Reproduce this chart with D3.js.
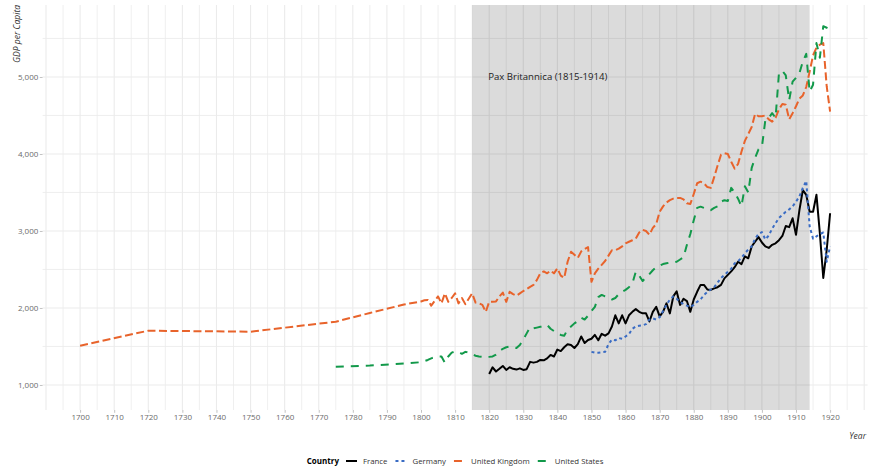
<!DOCTYPE html>
<html><head><meta charset="utf-8">
<script src="https://cdn.jsdelivr.net/npm/d3@7"></script>
<style>
body{margin:0;background:#fff}
svg{display:block}
text{font-family:"Open Sans",sans-serif}
</style>
</head><body>
<svg id="chart" width="869" height="467"></svg>
<script>
// ---------------- DATA ----------------
const countries = ["France", "Germany", "United Kingdom", "United States"];
const colors = ["#000000", "#3a6cc4", "#e8632b", "#12994a"];
const dashes = [null, "3,3", "8,3.5", "8,7"];

const xTickLabels = [1700,1710,1720,1730,1740,1750,1760,1770,1780,1790,1800,1810,1820,1830,1840,1850,1860,1870,1880,1890,1900,1910,1920];
const yTickLabels = [1000, 2000, 3000, 4000, 5000];

const paxStart = 1815, paxEnd = 1914;
const paxLabel = "Pax Britannica (1815-1914)";

// France, annual 1820-1920
const franceYears = [1820,1821,1822,1823,1824,1825,1826,1827,1828,1829,1830,1831,1832,1833,1834,1835,1836,1837,1838,1839,1840,1841,1842,1843,1844,1845,1846,1847,1848,1849,1850,1851,1852,1853,1854,1855,1856,1857,1858,1859,1860,1861,1862,1863,1864,1865,1866,1867,1868,1869,1870,1871,1872,1873,1874,1875,1876,1877,1878,1879,1880,1881,1882,1883,1884,1885,1886,1887,1888,1889,1890,1891,1892,1893,1894,1895,1896,1897,1898,1899,1900,1901,1902,1903,1904,1905,1906,1907,1908,1909,1910,1911,1912,1913,1914,1915,1916,1917,1918,1919,1920];
const franceValues = [
1143,1230,1175,1210,1247,1195,1230,1210,1200,1216,
1195,1205,1300,1290,1300,1325,1320,1345,1390,1370,
1460,1440,1490,1530,1520,1480,1530,1630,1545,1585,
1600,1650,1580,1665,1640,1670,1760,1905,1800,1905,
1800,1905,1950,1985,1950,1930,1930,1825,1950,2015,
1890,1950,2060,1930,2150,2215,2040,2120,2090,1950,
2110,2210,2300,2300,2240,2235,2255,2270,2300,2385,
2430,2475,2530,2600,2570,2670,2645,2800,2860,2920,
2850,2800,2780,2820,2840,2880,2935,3065,3050,3165,
2950,3270,3530,3470,3250,3250,3470,2970,2390,2750,
3230];

// Germany, annual 1850-1920
const germanyYears = [1850,1851,1852,1853,1854,1855,1856,1857,1858,1859,1860,1861,1862,1863,1864,1865,1866,1867,1868,1869,1870,1871,1872,1873,1874,1875,1876,1877,1878,1879,1880,1881,1882,1883,1884,1885,1886,1887,1888,1889,1890,1891,1892,1893,1894,1895,1896,1897,1898,1899,1900,1901,1902,1903,1904,1905,1906,1907,1908,1909,1910,1911,1912,1913,1914,1915,1916,1917,1918,1919,1920];
const germanyValues = [
1430,1420,1420,1425,1430,1530,1590,1580,1610,1600,
1630,1660,1730,1760,1770,1775,1790,1850,1865,1850,
1880,1960,2040,2110,2150,2120,2080,2050,2030,2010,
2040,2080,2110,2170,2210,2240,2270,2330,2390,2430,
2470,2510,2580,2610,2650,2710,2760,2800,2900,2960,
2985,2890,2940,3030,3100,3170,3210,3250,3280,3320,
3380,3450,3560,3650,3060,2900,2930,2960,2980,2600,
2800];

// United Kingdom, 1700-1920
const ukYears = [1700,1720,1750,1775,1785,1795,1800,1801,1802,1803,1804,1805,1806,1807,1808,1809,1810,1811,1812,1813,1814,1815,1816,1817,1818,1819,1820,1821,1822,1823,1824,1825,1826,1827,1828,1829,1830,1831,1832,1833,1834,1835,1836,1837,1838,1839,1840,1841,1842,1843,1844,1845,1846,1847,1848,1849,1850,1851,1852,1853,1854,1855,1856,1857,1858,1859,1860,1861,1862,1863,1864,1865,1866,1867,1868,1869,1870,1871,1872,1873,1874,1875,1876,1877,1878,1879,1880,1881,1882,1883,1884,1885,1886,1887,1888,1889,1890,1891,1892,1893,1894,1895,1896,1897,1898,1899,1900,1901,1902,1903,1904,1905,1906,1907,1908,1909,1910,1911,1912,1913,1914,1915,1916,1917,1918,1919,1920];
const ukValues = [
1510,1705,1692,1822,1935,2045,
2085,2100,2105,2030,2090,2150,2060,2190,2080,2130,
2190,2060,2130,2050,2120,2190,2070,2060,2040,1950,
2080,2080,2085,2150,2200,2080,2210,2180,2160,2190,
2220,2245,2275,2300,2365,2450,2475,2450,2485,2450,
2515,2420,2390,2600,2730,2690,2650,2735,2765,2790,
2340,2450,2510,2560,2610,2680,2750,2750,2770,2800,
2840,2860,2880,2900,2980,3015,3000,2950,3040,3090,
3250,3320,3370,3400,3420,3430,3430,3410,3360,3350,
3480,3620,3640,3620,3570,3560,3700,3850,3990,4010,
4000,3900,3810,3870,4030,4170,4260,4350,4520,4490,
4490,4500,4450,4420,4470,4580,4650,4640,4450,4530,
4620,4720,4760,4870,5070,5280,5380,5420,5440,4880,
4550];

// United States, 1775-1920
const usYears = [1775,1785,1795,1800,1801,1802,1803,1804,1805,1806,1807,1808,1809,1810,1811,1812,1813,1814,1815,1816,1817,1818,1819,1820,1821,1822,1823,1824,1825,1826,1827,1828,1829,1830,1831,1832,1833,1834,1835,1836,1837,1838,1839,1840,1841,1842,1843,1844,1845,1846,1847,1848,1849,1850,1851,1852,1853,1854,1855,1856,1857,1858,1859,1860,1861,1862,1863,1864,1865,1866,1867,1868,1869,1870,1871,1872,1873,1874,1875,1876,1877,1878,1879,1880,1881,1882,1883,1884,1885,1886,1887,1888,1889,1890,1891,1892,1893,1894,1895,1896,1897,1898,1899,1900,1901,1902,1903,1904,1905,1906,1907,1908,1909,1910,1911,1912,1913,1914,1915,1916,1917,1918,1919,1920];
const usValues = [
1238,1252,1278,
1296,1310,1325,1346,1360,1370,1370,1290,1370,1420,
1435,1430,1405,1430,1420,1400,1380,1370,1365,1360,
1365,1370,1395,1440,1470,1490,1498,1492,1480,1520,
1590,1670,1750,1735,1745,1755,1770,1780,1730,1700,
1680,1650,1640,1720,1760,1800,1830,1875,1850,1900,
1960,2015,2140,2170,2150,2140,2110,2130,2180,2210,
2235,2270,2320,2470,2420,2350,2400,2440,2490,2530,
2550,2570,2580,2590,2590,2600,2630,2660,2820,2960,
3140,3300,3316,3300,3290,3270,3300,3320,3380,3400,
3390,3560,3500,3420,3320,3580,3500,3820,3950,4060,
4091,4440,4470,4530,4470,5050,5080,5020,4700,4940,
4990,5050,5200,5300,4810,4900,5440,5250,5660,5640,
5550];

const seriesYears = [franceYears, germanyYears, ukYears, usYears];
const seriesValues = [franceValues, germanyValues, ukValues, usValues];

// ---------------- CHART ----------------
const svg = d3.select("#chart");
const x = d3.scaleLinear().domain([1689, 1931]).range([42.6, 867.6]);
const y = d3.scaleLinear().domain([675, 5935]).range([410, 5]);
const [px0, px1] = x.range();
const [py0, py1] = y.range(); // bottom, top

// grid
const grid = svg.append("g");
const xMinor = d3.range(1690, 1931, 5);
const yMinor = d3.range(1000, 5901, 500);
grid.selectAll("line.gx").data(xMinor).join("line")
  .attr("x1", d => x(d)).attr("x2", d => x(d))
  .attr("y1", py1).attr("y2", py0)
  .attr("stroke", "#ebebeb").attr("stroke-width", d => d % 10 === 0 ? 1.1 : 0.8);
grid.selectAll("line.gy").data(yMinor).join("line")
  .attr("x1", px0).attr("x2", px1)
  .attr("y1", d => y(d)).attr("y2", d => y(d))
  .attr("stroke", "#ebebeb").attr("stroke-width", d => d % 1000 === 0 ? 1.1 : 0.8);

// Pax Britannica shading
svg.append("rect")
  .attr("x", x(paxStart)).attr("width", x(paxEnd) - x(paxStart))
  .attr("y", py1).attr("height", py0 - py1)
  .attr("fill", "#000").attr("fill-opacity", 0.14);

// axes
const yAxis = svg.append("g").attr("transform", `translate(${px0},0)`)
  .call(d3.axisLeft(y).tickValues(yTickLabels).tickFormat(d3.format(",")).tickSize(2.8).tickPadding(1.5));
const xAxis = svg.append("g").attr("transform", `translate(0,${py0})`)
  .call(d3.axisBottom(x).tickValues(xTickLabels).tickFormat(d3.format("d")).tickSize(2.8).tickPadding(2));
[xAxis, yAxis].forEach(a => {
  a.select(".domain").remove();
  a.selectAll(".tick line").attr("stroke", "#b3b3b3").attr("stroke-width", 0.8);
  a.selectAll(".tick text").attr("fill", "#6b6b6b").style("font-size", "8px")
    .style("font-family", '"Open Sans", sans-serif');
});

// axis titles
svg.append("text").attr("transform", "translate(19.5,5) rotate(-90)")
  .attr("text-anchor", "end").style("font-size", "8.5px").style("font-style", "italic")
  .attr("fill", "#333").text("GDP per Capita");
svg.append("text").attr("x", 866).attr("y", 439).attr("text-anchor", "end")
  .style("font-size", "8.5px").style("font-style", "italic").attr("fill", "#333").text("Year");

// lines
const line = d3.line().x(d => x(d[0])).y(d => y(d[1]));
const lines = svg.append("g");
countries.forEach((c, i) => {
  const pts = seriesYears[i].map((yr, j) => [yr, seriesValues[i][j]]);
  lines.append("path").datum(pts)
    .attr("d", line).attr("fill", "none")
    .attr("stroke", colors[i]).attr("stroke-width", 2)
    .attr("stroke-linejoin", "round")
    .attr("stroke-dasharray", dashes[i]);
});

// annotation
svg.append("text").attr("x", x(1820) - 1).attr("y", y(5000) + 3.3)
  .style("font-size", "9.6px").attr("fill", "#222").text(paxLabel);

// legend
const leg = svg.append("g");
const ly = 461;
const title = leg.append("text").attr("y", ly + 2.8).style("font-size", "8px")
  .style("font-weight", "bold").attr("fill", "#000").text("Country");
let cx = title.node().getComputedTextLength() + 6;
countries.forEach((c, i) => {
  leg.append("line").attr("x1", cx + 1).attr("x2", cx + 12)
    .attr("y1", ly).attr("y2", ly).attr("stroke", colors[i]).attr("stroke-width", 2)
    .attr("stroke-dasharray", dashes[i]);
  const t = leg.append("text").attr("x", cx + 18).attr("y", ly + 2.8)
    .style("font-size", "7.8px").attr("fill", "#333").text(c);
  cx = cx + 18 + t.node().getComputedTextLength() + 7;
});
const legW = cx - 7;
leg.attr("transform", `translate(${(px0 + px1) / 2 - legW / 2},0)`);
</script>
</body></html>
